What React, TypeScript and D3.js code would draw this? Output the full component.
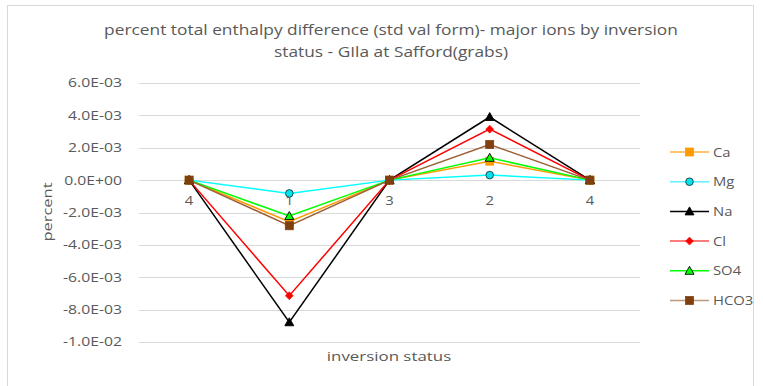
import React, { useEffect, useRef } from 'react'
import * as d3 from 'd3'

// inversion status sequence along the x axis
const categories = ['4', '1', '3', '2', '4']
const seriesNames = ['Ca', 'Mg', 'Na', 'Cl', 'SO4', 'HCO3']
const caValues = [0, -0.00257, 0, 0.00117, 0]
const mgValues = [0, -0.00082, 0, 0.00031, 0]
const naValues = [0, -0.00878, 0, 0.0039, 0]
const clValues = [0, -0.00714, 0, 0.00315, 0]
const so4Values = [0, -0.00222, 0, 0.00138, 0]
const hco3Values = [0, -0.00282, 0, 0.0022, 0]
const yTicks = [0.006, 0.004, 0.002, 0, -0.002, -0.004, -0.006, -0.008, -0.01]

const styles = [
  { line: '#FF9900', fill: '#FF9900', stroke: '#FF9900', shape: 'square', legendLine: '#FFB040' },
  { line: '#00FFFF', fill: '#00E5EE', stroke: '#1a3a40', shape: 'circle', legendLine: '#60F0FF' },
  { line: '#000000', fill: '#000000', stroke: '#000000', shape: 'triangle', legendLine: '#000000' },
  { line: '#FF0000', fill: '#FF0000', stroke: '#FF0000', shape: 'diamond', legendLine: '#FF5050' },
  { line: '#00FF00', fill: '#00FF00', stroke: '#000000', shape: 'triangle', legendLine: '#00FF00' },
  { line: '#9C5F35', fill: '#7F3F0F', stroke: '#7F3F0F', shape: 'square', legendLine: '#BC9A7E' },
]

const fmt = (v: number) => {
  if (v === 0) return '0.0E+00'
  const e = Math.floor(Math.log10(Math.abs(v)) + 1e-9)
  const m = v / Math.pow(10, e)
  const es = (e < 0 ? '-' : '+') + String(Math.abs(e)).padStart(2, '0')
  return `${m.toFixed(1)}E${es}`
}

type Sel = d3.Selection<SVGGElement, unknown, null, undefined> | d3.Selection<SVGSVGElement, unknown, null, undefined>

export default function App() {
  const svgRef = useRef<SVGSVGElement>(null)
  const width = 763
  const height = 386

  useEffect(() => {
    if (!svgRef.current) return
    const svg = d3.select(svgRef.current)
    svg.selectAll('*').remove()

    const font = "'Open Sans', sans-serif"
    const allValues = [caValues, mgValues, naValues, clValues, so4Values, hco3Values]

    // the source font is wider than Open Sans, so text is stretched along its baseline
    const label = (parent: Sel, x: number, y: number, txt: string, size: number, anchor: string, sx: number, rot = 0) => {
      parent.append('text')
        .attr('transform', `translate(${x},${y}) rotate(${rot}) scale(${sx},1)`)
        .attr('dy', '0.35em')
        .attr('text-anchor', anchor)
        .attr('font-family', font)
        .attr('font-size', size)
        .attr('fill', '#595959')
        .text(txt)
    }

    // outer frame
    svg.append('rect')
      .attr('x', 7.5).attr('y', 5.5)
      .attr('width', 746).attr('height', 390)
      .attr('fill', 'white')
      .attr('stroke', '#d9d9d9')

    const x = d3.scaleBand<number>()
      .domain(d3.range(categories.length))
      .range([139, 640])
    const y = d3.scaleLinear().domain([-0.01, 0.006]).range([342, 83])
    const cx = (i: number) => (x(i) ?? 0) + x.bandwidth() / 2

    // gridlines
    svg.append('g').selectAll('line')
      .data(yTicks)
      .join('line')
      .attr('x1', 139).attr('x2', 640)
      .attr('y1', d => Math.round(y(d)) + 0.5)
      .attr('y2', d => Math.round(y(d)) + 0.5)
      .attr('stroke', '#d9d9d9')
      .attr('stroke-width', 1)

    // y tick labels
    const tickG = svg.append('g')
    yTicks.forEach(t => label(tickG, 122, y(t), fmt(t), 12.5, 'end', 1.26))

    // category labels under the zero line
    const catG = svg.append('g')
    categories.forEach((c, i) => label(catG, cx(i), y(0) + 20, c, 13.5, 'middle', 1.1))

    const drawMarker = (g: d3.Selection<SVGGElement, unknown, null, undefined>, px: number, py: number, s: typeof styles[number]) => {
      if (s.shape === 'square') {
        g.append('rect')
          .attr('x', px - 4).attr('y', py - 4)
          .attr('width', 8).attr('height', 8)
          .attr('fill', s.fill).attr('stroke', s.stroke).attr('stroke-width', 0.75)
      } else if (s.shape === 'circle') {
        g.append('circle')
          .attr('cx', px).attr('cy', py).attr('r', 3.8)
          .attr('fill', s.fill).attr('stroke', s.stroke).attr('stroke-width', 0.9)
      } else if (s.shape === 'triangle') {
        g.append('path')
          .attr('d', `M${px},${py - 4.5}L${px + 4.5},${py + 3.5}L${px - 4.5},${py + 3.5}Z`)
          .attr('fill', s.fill).attr('stroke', s.stroke).attr('stroke-width', 0.9)
      } else {
        g.append('path')
          .attr('d', `M${px},${py - 4}L${px + 4},${py}L${px},${py + 4}L${px - 4},${py}Z`)
          .attr('fill', s.fill).attr('stroke', s.stroke).attr('stroke-width', 0.5)
      }
    }

    const line = d3.line<number>()
      .x((_, i) => cx(i))
      .y(d => y(d))

    allValues.forEach((vals, si) => {
      const s = styles[si]
      const g = svg.append('g')
      g.append('path')
        .attr('d', line(vals))
        .attr('fill', 'none')
        .attr('stroke', s.line)
        .attr('stroke-width', 1.5)
      vals.forEach((v, i) => drawMarker(g, cx(i), y(v), s))
    })

    // legend
    seriesNames.forEach((name, si) => {
      const s = styles[si]
      const ly = 152 + si * 29.7
      const g = svg.append('g')
      g.append('line')
        .attr('x1', 670).attr('x2', 709)
        .attr('y1', ly).attr('y2', ly)
        .attr('stroke', s.legendLine)
        .attr('stroke-width', 1.5)
      drawMarker(g, 689.5, ly, s)
      label(g, 713, ly, name, 13, 'start', 1.14)
    })

    // title
    label(svg, 391, 30, 'percent total enthalpy difference (std val form)- major ions by inversion', 14.5, 'middle', 1.196)
    label(svg, 391, 52, 'status - GIla at Safford(grabs)', 14.5, 'middle', 1.196)

    // axis titles
    label(svg, 47, 212, 'percent', 13.5, 'middle', 1.22, -90)
    label(svg, 389, 356, 'inversion status', 13.5, 'middle', 1.25)
  }, [])

  return (
    <svg
      ref={svgRef}
      width={width}
      height={height}
      style={{ position: 'absolute', left: 0, top: 0, background: 'white' }}
    />
  )
}
